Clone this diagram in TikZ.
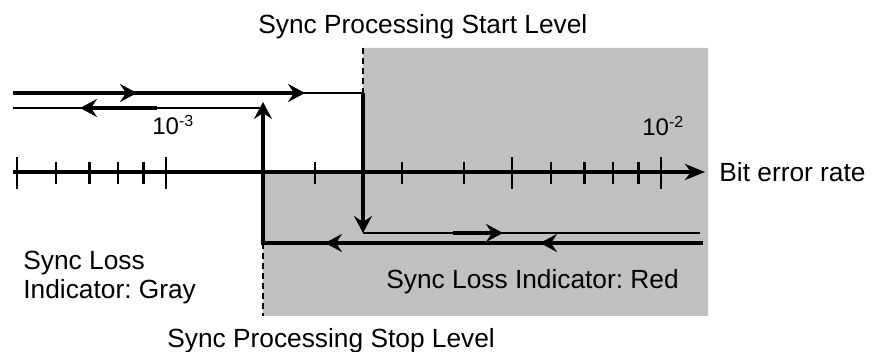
\documentclass[tikz,border=0pt]{standalone}
\usepackage{fontspec}
\setmainfont{Liberation Sans}
\usepackage{xcolor}
\usepackage{tikz}
\usetikzlibrary{arrows.meta}
\definecolor{zoneGray}{HTML}{C0C0C0}

\tikzset{
  tipHead/.style={-{Stealth[length=8.5pt,width=9pt,inset=3pt]}},
  thinLine/.style={line width=1.1pt},
  midLine/.style={line width=1.9pt},
  boldLine/.style={line width=2.3pt},
  axisTick/.style={line width=1.2pt},
  levelMark/.style={line width=1.4pt, dash pattern=on 3pt off 2pt},
  legendText/.style={inner sep=0pt, anchor=base west}
}

\begin{document}
\frenchspacing
\begin{tikzpicture}[x=0.5pt, y=-0.5pt, font=\fontsize{13.15}{14.5}\selectfont]
  \useasboundingbox (0,0) rectangle (874,352);

  % red zone
  \fill[zoneGray] (363,48) -- (708,48) -- (708,316) -- (263,316)
    -- (263,172) -- (363,172) -- cycle;

  % log axis, 10^-3 at 166, one decade = 495
  \draw[line width=2pt, -{Stealth[length=10pt,width=8pt,inset=3pt]}] (13,172) -- (705,172);
  \foreach \v in {0.6,0.7,0.8,0.9,2,3,4,6,7,8,9}
    \draw[axisTick] ({166+495*log10(\v)},162) -- ++(0,22);
  \foreach \v in {0.5,1,5,10}
    \draw[axisTick] ({166+495*log10(\v)},157) -- ++(0,32);

  \coordinate (startTop) at (363,48);
  \coordinate (startHi) at (363,93);
  \coordinate (startLo) at (363,233);
  \coordinate (stopHi) at (263,102);
  \coordinate (stopLo) at (263,243);
  \coordinate (stopEnd) at (263,316);

  \draw[levelMark] (startTop) -- (startHi);
  \draw[levelMark] (stopLo) -- (stopEnd);

  % going into sync loss
  \draw[boldLine] (13,93) -- (290,93);
  \draw[boldLine, tipHead] (72,93) -- (137,93);
  \draw[boldLine, tipHead] (137,93) -- (305,93);
  \draw[thinLine] (300,93) -- (startHi);
  \draw[boldLine, tipHead] (startHi) -- (startLo);
  \draw[thinLine] (startLo) -- (700,233);
  \draw[boldLine, tipHead] (453,233) -- (503,233);

  % coming back
  \draw[midLine, tipHead] (703,243) -| (stopHi);
  \draw[boldLine] (703,243) -- (617,243);
  \draw[midLine, tipHead] (617,243) -- (540,243);
  \draw[midLine, tipHead] (400,243) -- (325,243);
  \draw[thinLine] (13,108) -- (263,108);
  \draw[boldLine, tipHead] (157,108) -- (80,108);

  \node[legendText] (startLabel) at (258,34) {Sync Processing Start Level};
  \node[legendText] (stopLabel) at (167,348) {Sync Processing Stop Level};
  \node[legendText] (redLabel) at (386,289) {Sync Loss Indicator: Red};
  \node[legendText, anchor=north west, align=left] (grayLabel) at (23,251)
    {Sync Loss\\Indicator: Gray};
  \node[legendText, anchor=west] (axisLabel) at (719,172) {Bit error rate};
  \node[legendText, font=\fontsize{12}{14}\selectfont] (decadeLo) at (152,135)
    {10\textsuperscript{-3}};
  \node[legendText, font=\fontsize{12}{14}\selectfont] (decadeHi) at (642,136)
    {10\textsuperscript{-2}};
\end{tikzpicture}
\end{document}
